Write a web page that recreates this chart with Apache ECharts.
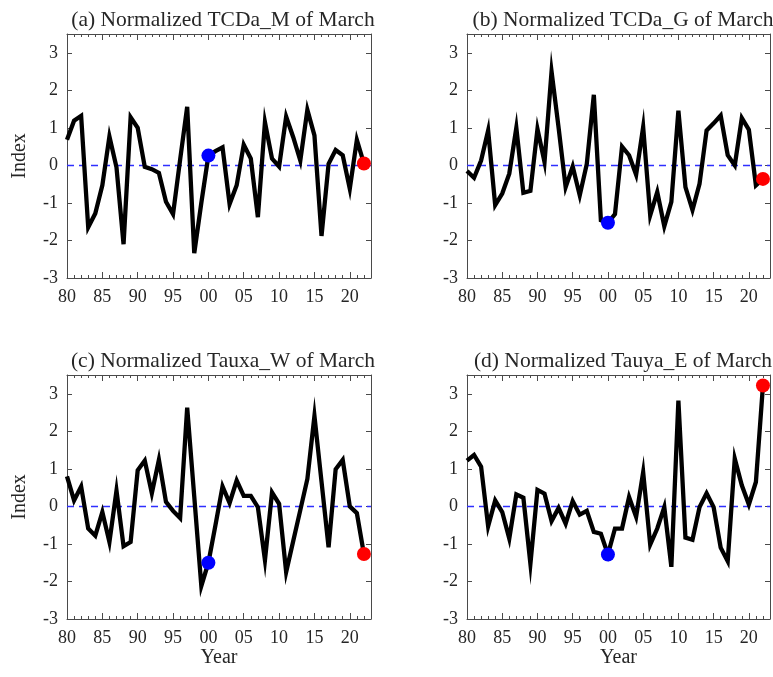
<!DOCTYPE html>
<html><head><meta charset="utf-8">
<script src="https://cdn.jsdelivr.net/npm/echarts@6/dist/echarts.min.js"></script>
<style>html,body{margin:0;padding:0;background:#fff}#c{width:773px;height:677px}</style>
</head><body><div id="c"></div>
<script>
const years = [1980,1981,1982,1983,1984,1985,1986,1987,1988,1989,
  1990,1991,1992,1993,1994,1995,1996,1997,1998,1999,
  2000,2001,2002,2003,2004,2005,2006,2007,2008,2009,
  2010,2011,2012,2013,2014,2015,2016,2017,2018,2019,
  2020,2021,2022];
const tcdaM = [0.68,1.19,1.32,-1.65,-1.28,-0.53,0.77,-0.05,-2.1,1.28,
  1.0,-0.04,-0.1,-0.2,-0.97,-1.3,0.15,1.56,-2.34,-1.0,
  0.26,0.38,0.48,-1.03,-0.53,0.55,0.18,-1.38,1.15,0.18,
  -0.03,1.3,0.75,0.13,1.48,0.8,-1.88,0.04,0.41,0.27,
  -0.62,0.68,0.05];
const tcdaG = [-0.15,-0.33,0.13,0.93,-1.06,-0.75,-0.22,1.0,-0.73,-0.68,
  0.97,0.09,2.5,1.0,-0.58,-0.03,-0.8,0.04,1.88,-1.46,
  -1.53,-1.3,0.5,0.27,-0.25,1.02,-1.33,-0.71,-1.62,-0.97,
  1.46,-0.58,-1.19,-0.49,0.93,1.12,1.33,0.27,0.0,1.26,
  0.95,-0.53,-0.36];
const tauxaW = [0.8,0.16,0.53,-0.59,-0.78,-0.15,-0.95,0.42,-1.06,-0.95,
  0.96,1.22,0.35,1.24,0.12,-0.12,-0.31,2.63,0.26,-2.12,
  -1.5,-0.5,0.53,0.09,0.69,0.28,0.28,-0.02,-1.43,0.37,
  0.07,-1.75,-0.92,-0.1,0.73,2.41,0.66,-1.09,0.99,1.24,
  0.0,-0.18,-1.27];
const tauyaE = [1.22,1.37,1.06,-0.53,0.16,-0.15,-0.86,0.32,0.23,-1.53,
  0.44,0.34,-0.39,-0.04,-0.46,0.14,-0.22,-0.12,-0.68,-0.73,
  -1.28,-0.59,-0.59,0.25,-0.28,0.91,-1.02,-0.59,-0.02,-1.61,
  2.82,-0.83,-0.89,-0.02,0.35,-0.02,-1.1,-1.46,1.27,0.56,
  0.05,0.65,3.22];
const titles = ['(a) Normalized TCDa_M of March','(b) Normalized TCDa_G of March',
  '(c) Normalized Tauxa_W of March','(d) Normalized Tauya_E of March'];
const xTickLabels = ['80','85','90','95','00','05','10','15','20'];
const yTickLabels = ['-3','-2','-1','0','1','2','3'];
const blueYear = 2000, redYear = 2022;

const panels = [tcdaM, tcdaG, tauxaW, tauyaE];
const gridPos = [[67,34],[467,34],[67,375],[467,375]];
const GW = 304, GH = 244;
const FONT = "'Liberation Serif', 'DejaVu Serif', serif";
const TXT = '#262626', FRAME = '#4a4a4a';

const grid = [], xAxis = [], yAxis = [], series = [], title = [];
panels.forEach((vals, i) => {
  const [L, T] = gridPos[i];
  grid.push({left: L, top: T, width: GW, height: GH, containLabel: false});
  title.push({text: titles[i], left: L + GW/2 - 1, top: T - 30, textAlign: 'center',
    textStyle: {fontFamily: FONT, fontSize: 21.5, fontWeight: 'normal', color: TXT}});
  const baseX = {type: 'value', gridIndex: i, min: 1980, max: 2023, splitLine: {show: false}};
  xAxis.push(Object.assign({}, baseX, {position: 'bottom', interval: 1,
    axisLine: {show: true, onZero: false, lineStyle: {color: FRAME, width: 1}},
    axisTick: {show: true, inside: true, length: 3, lineStyle: {color: FRAME}},
    axisLabel: {show: true, margin: 10, fontFamily: FONT, fontSize: 18, color: TXT,
      formatter: v => (v % 5 === 0 && v <= 2020) ? xTickLabels[(v - 1980) / 5] : ''},
    name: i >= 2 ? 'Year' : '', nameLocation: 'middle', nameGap: 28,
    nameTextStyle: {fontFamily: FONT, fontSize: 20, color: TXT}}));
  xAxis.push(Object.assign({}, baseX, {position: 'bottom', interval: 5,
    axisLine: {show: false, onZero: false},
    axisTick: {show: true, inside: true, length: 6, lineStyle: {color: FRAME}},
    axisLabel: {show: false}}));
  xAxis.push(Object.assign({}, baseX, {position: 'top', interval: 1,
    axisLine: {show: true, onZero: false, lineStyle: {color: FRAME, width: 1}},
    axisTick: {show: true, inside: true, length: 3, lineStyle: {color: FRAME}},
    axisLabel: {show: false}}));
  xAxis.push(Object.assign({}, baseX, {position: 'top', interval: 5,
    axisLine: {show: false, onZero: false},
    axisTick: {show: true, inside: true, length: 6, lineStyle: {color: FRAME}},
    axisLabel: {show: false}}));
  const baseY = {type: 'value', gridIndex: i, min: -3, max: 3.5, interval: 1, splitLine: {show: false}};
  yAxis.push(Object.assign({}, baseY, {position: 'left',
    axisLine: {show: true, onZero: false, lineStyle: {color: FRAME, width: 1}},
    axisTick: {show: true, inside: true, length: 5, lineStyle: {color: FRAME}},
    axisLabel: {show: true, margin: 9, fontFamily: FONT, fontSize: 18, color: TXT,
      formatter: v => Number.isInteger(v) ? yTickLabels[v + 3] : ''},
    name: (i % 2 === 0) ? 'Index' : '', nameLocation: 'middle', nameGap: 37, nameRotate: 90,
    nameTextStyle: {fontFamily: FONT, fontSize: 20, color: TXT}}));
  yAxis.push(Object.assign({}, baseY, {position: 'right',
    axisLine: {show: true, onZero: false, lineStyle: {color: FRAME, width: 1}},
    axisTick: {show: true, inside: true, length: 5, lineStyle: {color: FRAME}},
    axisLabel: {show: false}}));

  const xi = i * 4, yi = i * 2;
  series.push({type: 'line', xAxisIndex: xi, yAxisIndex: yi, z: 2, showSymbol: false, symbol: 'none',
    lineStyle: {color: '#000000', width: 4.3, join: 'miter'},
    data: years.map((y, k) => [y, vals[k]]),
    markLine: {z: 1, silent: true, symbol: ['none','none'], label: {show: false},
      lineStyle: {color: '#2f2fff', type: [7, 5], width: 1.3}, data: [{yAxis: 0}], animation: false}});
  series.push({type: 'scatter', xAxisIndex: xi, yAxisIndex: yi, z: 3, symbolSize: 14,
    itemStyle: {color: '#0000ff', opacity: 1}, data: [[blueYear, vals[years.indexOf(blueYear)]]]});
  series.push({type: 'scatter', xAxisIndex: xi, yAxisIndex: yi, z: 3, symbolSize: 14,
    itemStyle: {color: '#ff0000', opacity: 1}, data: [[redYear, vals[years.indexOf(redYear)]]]});
});

const chart = echarts.init(document.getElementById('c'), null, {renderer: 'canvas'});
chart.setOption({animation: false, backgroundColor: '#ffffff', title, grid, xAxis, yAxis, series});
</script>
</body></html>
